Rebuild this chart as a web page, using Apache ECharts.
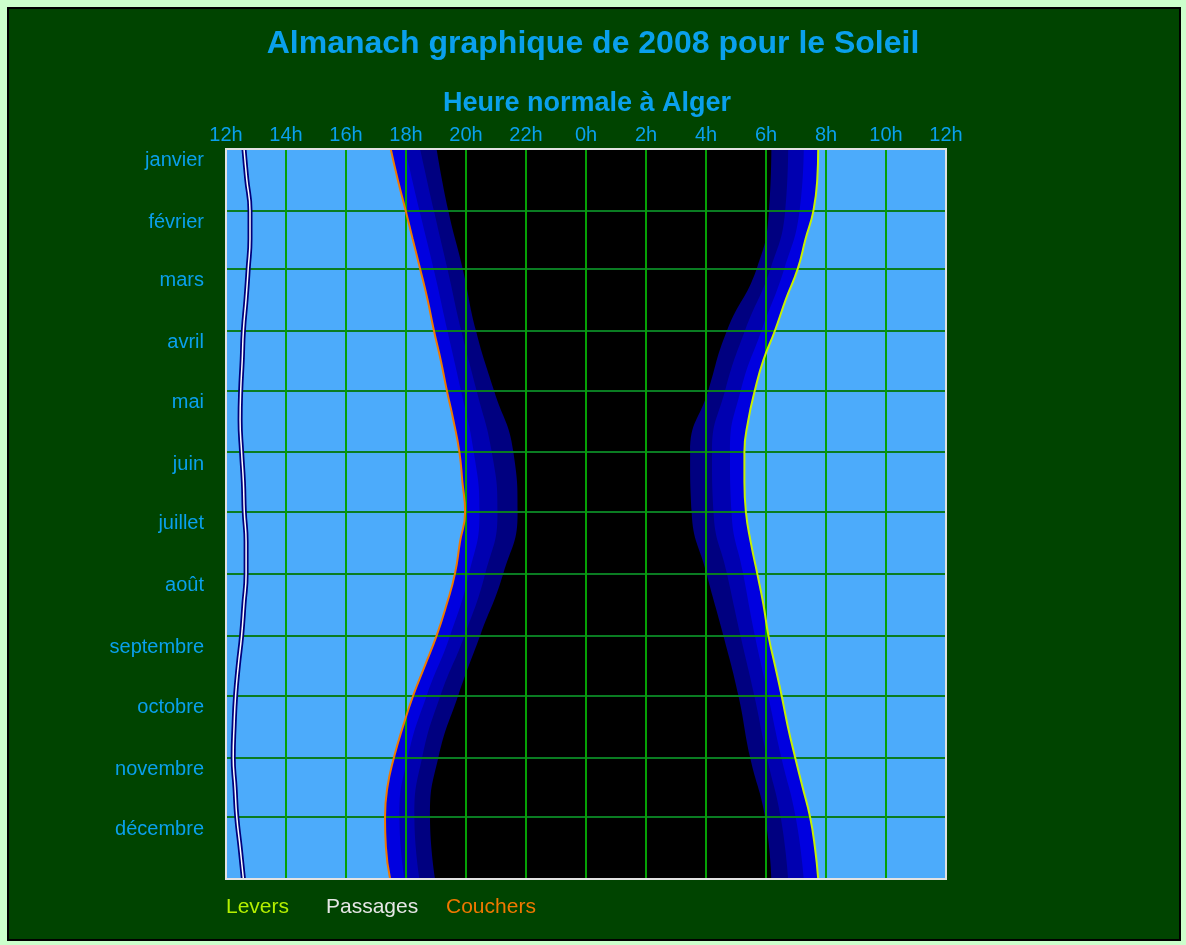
<!DOCTYPE html>
<html>
<head>
<meta charset="utf-8">
<title>Almanach graphique de 2008 pour le Soleil</title>
<script src="https://cdn.jsdelivr.net/npm/echarts@6/dist/echarts.min.js"></script>
<style>
  html, body { margin: 0; padding: 0; background: #ccffcc; }
  #frame { position: absolute; left: 7px; top: 7px; width: 1174px; height: 934px; box-sizing: border-box; border: 2px solid #000; background: #004400; }
  #chart { position: absolute; left: 0; top: 0; width: 1186px; height: 945px; }
</style>
</head>
<body>
<div id="frame"></div>
<div id="chart"></div>
<script>
// day of year 2008 (0 = 1 janvier, 366 = 31 décembre au soir)
const days = [0, 15, 31, 45, 60, 75, 91, 106, 121, 136, 152, 167, 182, 197, 213, 228, 244, 259, 274, 289, 305, 320, 335, 350, 366]
// hours on a 12h -> 12h scale (values above 24 are the next morning)
const couchers = [17.49, 17.72, 17.99, 18.22, 18.47, 18.71, 18.93, 19.16, 19.36, 19.58, 19.78, 19.88, 19.97, 19.80, 19.63, 19.36, 19.02, 18.63, 18.24, 17.91, 17.60, 17.38, 17.30, 17.33, 17.47]
const levers = [31.74, 31.71, 31.58, 31.32, 31.06, 30.67, 30.30, 29.91, 29.63, 29.41, 29.28, 29.28, 29.33, 29.49, 29.71, 29.91, 30.08, 30.30, 30.52, 30.72, 30.97, 31.22, 31.47, 31.63, 31.74]
const passages = [12.60, 12.69, 12.80, 12.80, 12.74, 12.67, 12.58, 12.54, 12.49, 12.47, 12.52, 12.58, 12.61, 12.67, 12.67, 12.60, 12.52, 12.41, 12.32, 12.27, 12.24, 12.30, 12.36, 12.47, 12.58]

// twilight limits, read at each first of month
const monthStarts = [0, 31, 60, 91, 121, 152, 182, 213, 244, 274, 305, 335, 366]
const civilDusk = [17.97, 18.45, 18.92, 19.38, 19.83, 20.26, 20.45, 20.10, 19.47, 18.69, 18.06, 17.78, 17.95]
const nauticalDusk = [18.47, 18.93, 19.38, 19.84, 20.35, 20.86, 21.05, 20.64, 19.95, 19.15, 18.54, 18.28, 18.45]
const astroDusk = [19.02, 19.41, 19.89, 20.33, 20.93, 21.58, 21.72, 21.24, 20.47, 19.74, 19.08, 18.80, 18.97]
const astroDawn = [30.18, 30.10, 29.69, 28.70, 28.08, 27.47, 27.52, 28.02, 28.58, 29.08, 29.47, 29.97, 30.18]
const nauticalDawn = [30.74, 30.64, 30.15, 29.30, 28.64, 28.20, 28.25, 28.70, 29.15, 29.61, 30.03, 30.49, 30.74]
const civilDawn = [31.26, 31.12, 30.61, 29.85, 29.16, 28.80, 28.85, 29.24, 29.63, 30.07, 30.51, 30.99, 31.26]

const months = ['janvier', 'février', 'mars', 'avril', 'mai', 'juin', 'juillet', 'août', 'septembre', 'octobre', 'novembre', 'décembre']

const dayIndex = Array.from({ length: 367 }, (_, i) => i)
const labelOffset = 6

const font = "'Liberation Sans', Arial, sans-serif"
const textBlue = '#0aa0ec'
const dayBlue = '#4cabfb'

function pairs (values, at) {
  return values.map((v, i) => [v, at[i]])
}

function band (values, at, color, z) {
  return {
    type: 'line',
    data: pairs(values, at),
    smooth: 0.5,
    showSymbol: false,
    silent: true,
    lineStyle: { width: 0 },
    areaStyle: { color: color, opacity: 1, origin: 'start' },
    z: z
  }
}

function curve (values, color, width, z) {
  return {
    type: 'line',
    data: pairs(values, days),
    smooth: 0.5,
    showSymbol: false,
    silent: true,
    lineStyle: { color: color, width: width },
    z: z
  }
}

const chart = echarts.init(document.getElementById('chart'))

chart.setOption({
  animation: false,
  title: [
    {
      text: 'Almanach graphique de 2008 pour le Soleil',
      left: 'center',
      top: 23,
      textStyle: { color: textBlue, fontSize: 32, fontWeight: 'bold', fontFamily: font }
    },
    {
      text: 'Heure normale à Alger',
      left: 438,
      top: 85,
      textStyle: { color: textBlue, fontSize: 27, fontWeight: 'bold', fontFamily: font }
    }
  ],
  grid: {
    left: 226,
    top: 149,
    width: 720,
    height: 730,
    show: true,
    backgroundColor: dayBlue,
    borderWidth: 0
  },
  xAxis: {
    type: 'value',
    position: 'top',
    min: 12,
    max: 36,
    interval: 2,
    z: 20,
    axisLine: { show: false },
    axisTick: { show: false },
    axisLabel: {
      margin: 4,
      color: textBlue,
      fontSize: 20,
      fontFamily: font,
      formatter: v => (v % 24) + 'h'
    },
    splitLine: { lineStyle: { color: '#05a005', width: 2 } }
  },
  yAxis: {
    type: 'category',
    data: dayIndex,
    inverse: true,
    boundaryGap: false,
    z: 20,
    axisLine: { show: false },
    axisTick: { show: false },
    axisLabel: {
      margin: 22,
      color: textBlue,
      fontSize: 20,
      fontFamily: font,
      interval: idx => monthStarts.slice(0, 12).includes(idx - labelOffset),
      formatter: v => months[monthStarts.indexOf(Number(v) - labelOffset)] || ''
    },
    splitLine: {
      show: true,
      interval: idx => idx > 0 && idx < 366 && monthStarts.includes(idx),
      lineStyle: { color: '#0a7c22', width: 2 }
    }
  },
  series: [
    band(levers, days, '#0000e0', 1),
    band(civilDawn, monthStarts, '#0000b0', 2),
    band(nauticalDawn, monthStarts, '#000080', 3),
    band(astroDawn, monthStarts, '#000000', 4),
    band(astroDusk, monthStarts, '#000080', 5),
    band(nauticalDusk, monthStarts, '#0000b0', 6),
    band(civilDusk, monthStarts, '#0000e0', 7),
    band(couchers, days, dayBlue, 8),
    curve(passages, '#00007a', 5, 30),
    curve(passages, '#ffffff', 1.5, 31),
    curve(couchers, '#f07a00', 2, 32),
    curve(levers, '#c8f000', 2, 32)
  ],
  graphic: [
    {
      type: 'rect',
      z: 100,
      silent: true,
      shape: { x: 226, y: 149, width: 720, height: 730 },
      style: { fill: 'none', stroke: '#e2e2e2', lineWidth: 2 }
    },
    { type: 'text', left: 226, top: 897, style: { text: 'Levers', fill: '#b4f000', font: '21px ' + font } },
    { type: 'text', left: 326, top: 897, style: { text: 'Passages', fill: '#e6e6e6', font: '21px ' + font } },
    { type: 'text', left: 446, top: 897, style: { text: 'Couchers', fill: '#f07800', font: '21px ' + font } }
  ]
})
</script>
</body>
</html>
